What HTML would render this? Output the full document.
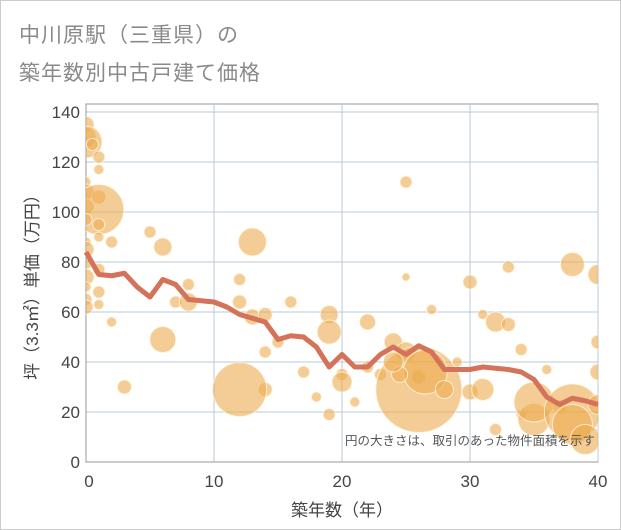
<!DOCTYPE html>
<html><head><meta charset="utf-8"><style>
body{margin:0;background:#fff;}
#wrap{position:relative;width:619px;height:528px;border:1px solid #ccc;background:#fff;font-family:"Liberation Sans","Noto Sans CJK JP",sans-serif;}
.title{position:absolute;left:18px;font-size:21px;color:#8a8a8a;letter-spacing:1px;}
</style></head><body>
<div id="wrap">
<div class="title" style="top:18px">中川原駅（三重県）の</div>
<div class="title" style="top:56px">築年数別中古戸建て価格</div>
<svg id="chart" width="619" height="528" style="position:absolute;left:0;top:0"></svg>
</div>
<script>
const xTicks=[0,10,20,30,40];
const yTicks=[0,20,40,60,80,100,120,140];
const lineAges=[0,1,2,3,4,5,6,7,8,9,10,11,12,13,14,15,16,17,18,19,20,21,22,23,24,25,26,27,28,29,30,31,32,33,34,35,36,37,38,39,40];
const lineAvg=[84,75,74.5,75.5,70,66,73,71,65,64.5,64,62,59,57.5,56,49,50.5,50,46,38,43,38,38,43,46,43,46.5,44,37,37,37,38,37.5,37,36,33,26,23,25.5,24.5,23];
const bubAge=[0,0,0,0.5,1,1,0,0,1,0,1,0,1,1,0,0,0,1,0,0,1,0,0,1,2,2,3,5,6,6,7,8,8,12,12,13,13,14,14,14,15,16,17,18,19,19,19,20,20,21,22,22,23,24,25,25,25,26,26,26.5,27,28,29,30,30,31,31,32,32,33,33,34,34,35,35,36,37,38,38,38,39,40,40,40,40,24.5,24];
const bubPrice=[135,130,128,127,122,117,112,108,106,102,101,97,95,90,88,85,80,77,74,70,68,65,62,63,56,88,30,92,86,49,64,71,64,73,64,88,58,29,59,44,48,64,36,26,59,52,19,35,32,24,56,38,35,48,112,74,44,34,29,36,61,29,40,72,28,59,29,56,13,78,55,45,19,17,24,37,22,79,20,15,9,75,48,36,23,35,40];
const bubSize=[8,10,16,6,6,5,5,8,7,8,25,6,6,5,5,8,7,6,8,5,6,6,7,5,5,6,7,6,9,13,6,6,9,6,7,14,8,7,7,6,6,6,6,5,9,12,6,6,10,5,8,6,6,9,6,4,10,7,43,22,5,9,5,7,8,5,11,10,6,6,7,6,5,16,20,5,7,12,28,20,15,10,7,8,10,8,10];
const bigAge=[12];
const bigPrice=[29];
const bigSize=[27];
const svg=document.getElementById('chart');
const NS='http://www.w3.org/2000/svg';
const X0=85,X1=597,YB=461,YT=111;
const sx=v=>X0+(v-xTicks[0])/(xTicks[xTicks.length-1]-xTicks[0])*(X1-X0);
const sy=v=>YB-v/140*(YB-YT);
function mk(tag,attrs){const e=document.createElementNS(NS,tag);for(const k in attrs)e.setAttribute(k,attrs[k]);svg.appendChild(e);return e;}
let e=mk('rect',{x:X0,y:103,width:X1-X0,height:YB-103,fill:'#fff',stroke:'#999','stroke-width':1});


yTicks.forEach(t=>{
 let g=mk('line',{x1:X0,x2:X1,y1:sy(t),y2:sy(t),stroke:'#b8c8d8','stroke-width':1});
 
 
 let l=mk('text',{x:X0-6,y:sy(t)+6,'text-anchor':'end','font-size':17,fill:'#444'});l.textContent=t;
 
 
});
xTicks.forEach(t=>{
 let g=mk('line',{x1:sx(t),x2:sx(t),y1:103,y2:YB,stroke:'#b8c8d8','stroke-width':1});
 
 
 let l=mk('text',{x:sx(t)+(t===0?3:0),y:YB+25,'text-anchor':'middle','font-size':17,fill:'#444'});l.textContent=t;
 
 
});
mk('line',{x1:X0,x2:X0,y1:103,y2:YB,stroke:'#999'});
mk('line',{x1:X0,x2:X1,y1:YB,y2:YB,stroke:'#999'});
const cp=document.createElementNS(NS,'clipPath');cp.setAttribute('id','pc');
const cr=document.createElementNS(NS,'rect');cr.setAttribute('x',X0);cr.setAttribute('y',103);cr.setAttribute('width',X1-X0);cr.setAttribute('height',YB-103);cp.appendChild(cr);svg.appendChild(cp);
const gb=mk('g',{'clip-path':'url(#pc)'});


function bubble(a,p,r){
 const c=document.createElementNS(NS,'circle');
 c.setAttribute('cx',sx(a));c.setAttribute('cy',sy(p));c.setAttribute('r',r);
 c.setAttribute('fill','rgba(236,172,80,0.6)');c.setAttribute('stroke','rgba(255,245,225,0.8)');c.setAttribute('stroke-width','1');
 
 
 gb.appendChild(c);
}
bubAge.forEach((a,i)=>bubble(a,bubPrice[i],bubSize[i]));
bigAge.forEach((a,i)=>bubble(a,bigPrice[i],bigSize[i]));
let pl=mk('polyline',{points:lineAges.map((a,i)=>sx(a)+','+sy(lineAvg[i])).join(' '),fill:'none',stroke:'#d4735a','stroke-width':5,'stroke-linejoin':'round'});


let n=mk('text',{x:594,y:444,'text-anchor':'end','font-size':12.5,fill:'#555'});n.textContent='円の大きさは、取引のあった物件面積を示す';


let xt=mk('text',{x:341,y:515,'text-anchor':'middle','font-size':17,fill:'#444'});xt.textContent='築年数（年）';


let yt=mk('text',{x:0,y:0,'text-anchor':'middle','font-size':17,fill:'#444',transform:'translate(37,282) rotate(-90)'});yt.textContent='坪（3.3㎡）単価（万円）';


</script>
</body></html>
